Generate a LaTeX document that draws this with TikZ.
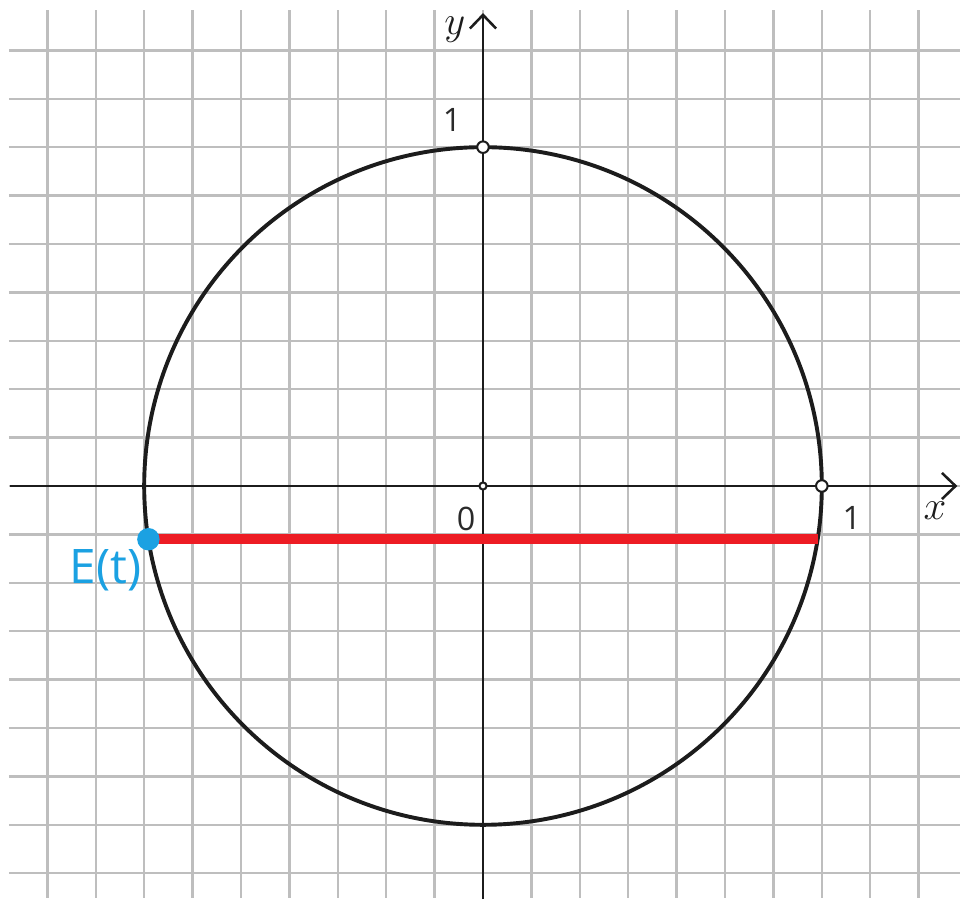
\documentclass[tikz,border=0pt]{standalone}
\usepackage{fontspec}
\setsansfont{Open Sans}
\usepackage{xcolor}
\definecolor{gridGray}{HTML}{BEBEBE}
\definecolor{axisBlack}{HTML}{1C1C1C}
\definecolor{chordRed}{HTML}{ED1C24}
\definecolor{pointBlue}{HTML}{1BA1E2}
\definecolor{tickText}{HTML}{2A2A2A}
\usepackage{tikz}
\usetikzlibrary{
    arrows.meta,
    calc
}
\tikzset{
    % Squared paper behind everything
    paper grid/.style={
        draw=gridGray,
        line width=0.7pt,
        step=0.5cm,
    },
    % Coordinate axes with open barb tips
    axis line/.style={
        draw=axisBlack,
        line width=0.75pt,
        -{Straight Barb[length=1.4mm, width=2.7mm]},
    },
    % The circle itself
    unit circle/.style={
        draw=axisBlack,
        line width=1.15pt,
    },
    % Red horizontal segment
    chord/.style={
        draw=chordRed,
        line width=2.9pt,
    },
    % Hollow marks on the axes
    open point/.style={
        circle,
        draw=axisBlack,
        fill=white,
        line width=0.6pt,
        inner sep=0pt,
        minimum size=3.4pt,
    },
    % Filled point E(t)
    blue point/.style={
        circle,
        fill=pointBlue,
        inner sep=0pt,
        minimum size=6.6pt,
    },
    % Numbers on the axes
    tick label/.style={
        font=\sffamily\fontsize{9.5}{10}\selectfont,
        text=tickText,
        inner sep=0pt,
    },
    % Axis names
    axis label/.style={
        font=\fontsize{12}{14}\selectfont,
        text=axisBlack,
        inner sep=0pt,
    },
}

\begin{document}
\begin{tikzpicture}[x=0.5cm, y=0.5cm]
    \useasboundingbox (-9.979,-8.533) rectangle (9.855,10.041);

    % grid
    \draw [paper grid] (-9.793,-8.512) grid (9.855,9.835);

    % axes
    \coordinate (O) at (0,0);
    \coordinate (xstart) at (-9.77,0);
    \coordinate (xend) at (9.80,0);
    \coordinate (ystart) at (0,-8.533);
    \coordinate (yend) at (0,9.77);
    \draw [axis line] (xstart) -- (xend);
    \draw [axis line] (ystart) -- (yend);

    % circle and segment
    \draw [unit circle] (O) circle[radius=7];
    \coordinate (Eleft) at (-6.913,-1.1);
    \coordinate (Eright) at (6.913,-1.1);
    \draw [chord] (Eleft) -- (Eright);

    % points
    \node (top) [open point] at (0,7) {};
    \node (right) [open point] at (7,0) {};
    \node (origin) [open point, minimum size=2.1pt] at (O) {};
    \node (E) [blue point] at (Eleft) {};

    % labels
    \node (oneY) [tick label] at (-0.64,7.56) {1};
    \node (oneX) [tick label] at (7.62,-0.66) {1};
    \node (zero) [tick label] at (-0.35,-0.68) {0};
    \node (ylab) [axis label] at (-0.58,9.42) {$y$};
    \node (xlab) [axis label] at (9.34,-0.52) {$x$};
    \node (Elab) [tick label, text=pointBlue, font=\sffamily\fontsize{14}{16}\selectfont]
        at (-7.8,-1.74) {E(t)};
\end{tikzpicture}
\end{document}
